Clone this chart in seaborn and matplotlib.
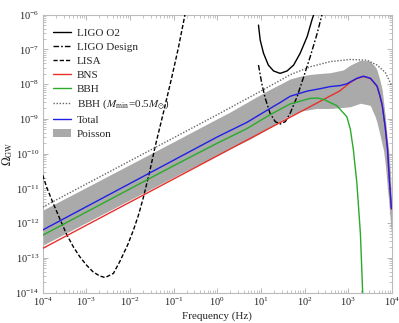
import numpy as np
import pandas as pd
from matplotlib import pyplot as plt
import seaborn as sns

# global settings
sns.set_style("ticks")
plt.rcParams['font.family'] = ['Liberation Serif', 'DejaVu Serif']
plt.rcParams['mathtext.fontset'] = 'stix'

# curves, as log10(f / Hz) and log10(Omega_GW)
lisa_logf = [-4.00, -3.90, -3.76, -3.60, -3.45, -3.30, -3.15, -2.99, -2.85, -2.70, -2.57,
             -2.38, -2.23, -2.05, -1.92, -1.80, -1.69, -1.54, -1.42, -1.23, -1.04, -0.89, -0.74]
lisa_logo = [-10.62, -11.00, -11.43, -11.90, -12.33, -12.68, -12.97, -13.22, -13.40, -13.52, -13.57,
             -13.45, -13.10, -12.62, -12.20, -11.75, -11.25, -10.47, -9.78, -8.80, -7.79, -6.95, -6.00]

o2_logf = [0.945, 0.984, 1.06, 1.17, 1.29, 1.44, 1.60, 1.75, 1.90, 2.06, 2.17, 2.21]
o2_logo = [-6.30, -6.73, -7.11, -7.45, -7.62, -7.69, -7.62, -7.45, -7.11, -6.63, -6.15, -6.00]

design_logf = [0.945, 1.02, 1.10, 1.21, 1.33, 1.44, 1.56, 1.67, 1.83, 1.98, 2.13, 2.28, 2.40]
design_logo = [-7.45, -7.98, -8.41, -8.84, -9.08, -9.15, -9.08, -8.84, -8.36, -7.79, -7.21, -6.58, -6.00]

bns_logf = [-4.0, 2.80, 3.05, 3.20, 3.35, 3.51, 3.66, 3.72, 3.78, 3.85, 3.90, 3.95, 3.99]
bns_logo = [-12.73, -8.20, -7.95, -7.84, -7.78, -7.84, -8.06, -8.31, -8.61, -9.26, -9.86, -10.87, -11.60]

bbh_logf = [-4.0, -1.0, 0.0, 0.68, 1.21, 1.67, 2.13, 2.30, 2.44, 2.74, 2.97, 3.05, 3.12, 3.20, 3.28, 3.33, 3.36]
bbh_logo = [-12.35, -10.35, -9.70, -9.28, -8.88, -8.57, -8.41, -8.40, -8.44, -8.62, -8.94, -9.30, -9.90, -10.86, -12.30, -13.93, -14.6]

bbh05_logf = [-4.0, 0.0, 1.0, 1.67, 2.13, 2.59, 3.05, 3.43, 3.66, 3.85, 4.0]
bbh05_logo = [-11.54, -8.88, -8.20, -7.73, -7.50, -7.35, -7.29, -7.31, -7.45, -7.66, -8.05]

total_logf = [-4.0, -1.0, 0.0, 0.68, 1.21, 1.44, 1.67, 2.06, 2.36, 2.59, 2.82, 2.97, 3.10, 3.20,
              3.35, 3.51, 3.66, 3.72, 3.78, 3.85, 3.90, 3.95, 3.99]
total_logo = [-12.20, -10.19, -9.52, -9.10, -8.70, -8.53, -8.35, -8.20, -8.13, -8.07, -8.04, -7.99, -7.90, -7.83,
              -7.77, -7.83, -8.05, -8.30, -8.60, -9.25, -9.85, -10.86, -11.58]

band_logf = [-4.0, -0.85, -0.16, 0.30, 0.755, 1.21, 1.52, 1.67, 1.90, 2.13, 2.28, 2.59, 2.89, 3.05, 3.28,
             3.47, 3.51, 3.62, 3.66, 3.74, 3.78, 3.81, 3.85, 3.90, 3.93, 3.97, 4.0]
band_hi = [-11.63, -9.56, -9.10, -8.80, -8.47, -8.15, -7.95, -7.85, -7.77, -7.72, -7.70, -7.67, -7.59, -7.45, -7.31,
           -7.33, -7.35, -7.50, -7.59, -7.95, -8.17, -8.50, -8.94, -9.60, -9.90, -10.6, -11.6]
band_lo = [-12.64, -10.58, -10.15, -9.85, -9.58, -9.25, -9.00, -8.90, -8.78, -8.73, -8.70, -8.70, -8.67, -8.65, -8.55,
           -8.60, -8.62, -8.94, -9.10, -9.52, -9.75, -9.90, -10.3, -11.0, -11.4, -12.0, -12.4]

fig, ax = plt.subplots(figsize=(3.99, 3.23), dpi=100)
fig.subplots_adjust(left=0.107, right=0.982, top=0.9545, bottom=0.0944)

lw = 1.0
curves = [
    (o2_logf, o2_logo, 'LIGO O2', 'black', '-'),
    (design_logf, design_logo, 'LIGO Design', 'black', (0, (4, 1.5, 1.2, 1.5))),
    (lisa_logf, lisa_logo, 'LISA', 'black', (0, (3, 1.5))),
    (bns_logf, bns_logo, 'BNS', '#e8302a', '-'),
    (bbh_logf, bbh_logo, 'BBH', '#2aaa2a', '-'),
    (bbh05_logf, bbh05_logo, r'BBH ($M_{\rm min}$=0.5$M_{\odot}$)', '0.4', (0, (1, 1.2))),
    (total_logf, total_logo, 'Total', '#1f1fe6', '-'),
]
for logf, logo, name, color, ls in curves:
    data = pd.DataFrame({'f': 10 ** np.array(logf), 'omega': 10 ** np.array(logo)})
    sns.lineplot(data=data, x='f', y='omega', ax=ax, color=color, linestyle=ls,
                 linewidth=lw, label=name, sort=False, estimator=None, zorder=3)

ax.fill_between(10 ** np.array(band_logf), 10 ** np.array(band_lo), 10 ** np.array(band_hi),
                color='#aaaaaa', linewidth=0, label='Poisson', zorder=1)

ax.set_xscale('log')
ax.set_yscale('log')
ax.set_xlim(1e-4, 1e4)
ax.set_ylim(1e-14, 1e-6)
ax.set_xticks([10.0 ** k for k in range(-4, 5)])
ax.set_yticks([10.0 ** k for k in range(-14, -5)])

ax.set_xlabel('Frequency (Hz)', fontsize=8, labelpad=2)
ax.set_ylabel(r'$\Omega_{\rm GW}$', fontsize=8.5, labelpad=0)

for sp in ax.spines.values():
    sp.set_color('#bbbbbb')
    sp.set_linewidth(0.8)
ax.tick_params(which='both', direction='in', top=True, right=True, color='#aaaaaa',
               labelsize=7.5, labelcolor='#222222', pad=2.5)
ax.tick_params(which='major', length=3.5, width=0.6)
ax.tick_params(which='minor', length=2, width=0.5)

leg = ax.legend(loc='upper left', bbox_to_anchor=(0.005, 0.985), frameon=False, fontsize=8,
                handlelength=1.6, handletextpad=0.5, labelspacing=0.38, borderaxespad=0.4)

plt.savefig('out.png', dpi=100)
